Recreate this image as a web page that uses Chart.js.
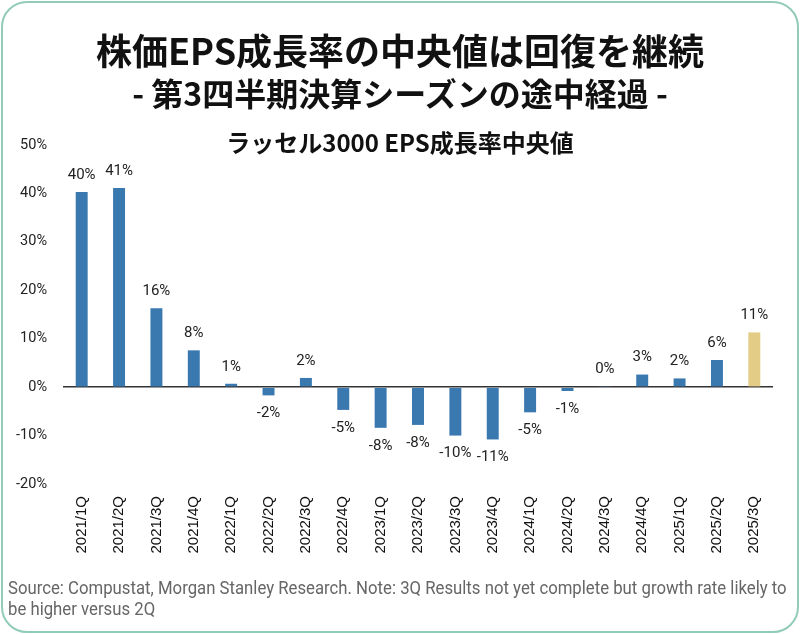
<!DOCTYPE html>
<html>
<head>
<meta charset="utf-8">
<script src="https://cdn.jsdelivr.net/npm/chart.js@4"></script>
<style>
  html, body { margin: 0; padding: 0; background: #fff; }
  #wrap { position: relative; width: 800px; height: 634px; overflow: hidden; }
  #frame { position: absolute; left: 1px; top: 1px; width: 798px; height: 632px;
    border: 2px solid #92cbb6; border-radius: 26px; box-sizing: border-box; }
  canvas { position: absolute; left: 0; top: 0; }
  .t { position: absolute; left: 0; width: 800px; text-align: center; color: #111;
    font-family: "Noto Sans CJK JP", sans-serif; font-weight: 700; white-space: nowrap; }
  #t1 { top: 26px; font-size: 36px; line-height: 46px; }
  #t2 { top: 72px; font-size: 32px; line-height: 40px; }
  #t3 { top: 127px; font-size: 24px; line-height: 30px; }
  #src { position: absolute; left: 8px; top: 577px; font-family: Roboto, sans-serif; font-size: 18px;
    line-height: 21px; color: #666; white-space: nowrap; transform: scaleX(0.93); transform-origin: left top; }
</style>
</head>
<body>
<div id="wrap">
  <canvas id="myChart" width="800" height="634"></canvas>
  <div id="frame"></div>
  <div class="t" id="t1">株価EPS成長率の中央値は回復を継続</div>
  <div class="t" id="t2">- 第3四半期決算シーズンの途中経過 -</div>
  <div class="t" id="t3">ラッセル3000 EPS成長率中央値</div>
  <div id="src">Source: Compustat, Morgan Stanley Research. Note: 3Q Results not yet complete but growth rate likely to<br>be higher versus 2Q</div>
</div>
<script>
var quarters = ["2021/1Q","2021/2Q","2021/3Q","2021/4Q","2022/1Q","2022/2Q","2022/3Q","2022/4Q",
  "2023/1Q","2023/2Q","2023/3Q","2023/4Q","2024/1Q","2024/2Q","2024/3Q","2024/4Q",
  "2025/1Q","2025/2Q","2025/3Q"];
var growth = [40.3, 41.1, 16.3, 7.6, 0.7, -1.7, 1.9, -4.7, -8.4, -7.8, -10.0, -10.8, -5.2, -0.8, 0.1, 2.6, 1.8, 5.6, 11.3];
var yTicks = [50, 40, 30, 20, 10, 0, -10, -20];

var blue = "#3a78b0";
var gold = "#e3cc85";
var colors = quarters.map(function(q, i){ return i === quarters.length - 1 ? gold : blue; });

var valueLabels = {
  id: "valueLabels",
  afterDatasetsDraw: function(chart){
    var ctx = chart.ctx;
    var meta = chart.getDatasetMeta(0);
    ctx.save();
    ctx.font = "15px Roboto";
    ctx.fillStyle = "#222";
    ctx.textAlign = "center";
    ctx.textBaseline = "middle";
    meta.data.forEach(function(bar, i){
      var v = growth[i];
      var y = v >= 0 ? bar.y - 17 : bar.y + 18;
      ctx.fillText(Math.round(v) + "%", bar.x, y);
    });
    ctx.restore();
  }
};

new Chart(document.getElementById("myChart"), {
  type: "bar",
  data: {
    labels: quarters,
    datasets: [{
      data: growth,
      backgroundColor: colors,
      barPercentage: 0.32,
      categoryPercentage: 1
    }]
  },
  options: {
    responsive: false,
    animation: false,
    layout: { padding: { top: 145, left: 0, right: 27, bottom: 0 } },
    plugins: { legend: { display: false }, tooltip: { enabled: false } },
    scales: {
      x: {
        afterFit: function(s){ s.height = 150; },
        grid: { display: false, drawTicks: false },
        border: { display: false },
        ticks: { color: "#111", font: { family: "Liberation Sans", size: 15 }, maxRotation: 90, minRotation: 90, padding: 12 }
      },
      y: {
        min: -20, max: 50,
        afterFit: function(s){ s.width = 63; },
        afterBuildTicks: function(s){ s.ticks = yTicks.map(function(v){ return { value: v }; }); },
        grid: {
          drawTicks: false,
          lineWidth: 1.5,
          color: function(c){ return c.tick && c.tick.value === 0 ? "#333" : "rgba(0,0,0,0)"; }
        },
        border: { display: false },
        ticks: { color: "#222", font: { family: "Roboto", size: 14.5 }, padding: 16,
          callback: function(v){ return v + "%"; } }
      }
    }
  },
  plugins: [valueLabels]
});
</script>
</body>
</html>
